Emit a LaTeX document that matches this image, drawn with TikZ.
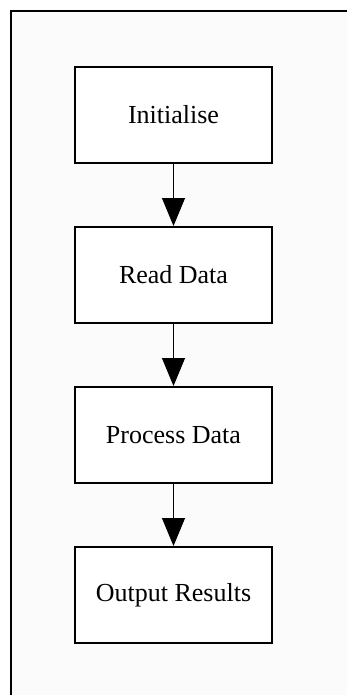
\documentclass[tikz,border=0pt]{standalone}
\usepackage{fontspec}
\setmainfont{Liberation Serif}
\usepackage{tikz}
\usetikzlibrary{arrows.meta}
\usetikzlibrary{positioning}
\definecolor{panel}{RGB}{251,251,251}
\tikzset{auto,>={Triangle[length=28pt,width=23pt]}, minimum size=0pt, node distance=62pt, font=\fontsize{26}{26}\selectfont}
\tikzstyle{block} = [draw, line width=2pt, fill=white, rectangle, minimum height=96pt, minimum width=197pt, text centered, align=center]
\tikzstyle{flow} = [line width=1pt]
\tikzstyle{frame} = [line width=2pt]
\begin{document}
\begin{tikzpicture}[x=1pt,y=1pt]
			\useasboundingbox (0,0) rectangle (347,-695);
			\fill [white] (0,0) rectangle (347,-695);
			\fill [panel] (11,-11) rectangle (347,-695);
			\draw [frame] (11,-695) -- (11,-11) -- (347,-11);

			\node [block] at (173.5,-115) (init) {Initialise};
			\node [block, below=62pt of init] (read_data) {Read Data};
			\node [block, below=62pt of read_data] (proc_data) {Process Data};
			\node [block, below=62pt of proc_data] (out_res) {Output Results};

			\draw [->, flow] (init) -- (read_data);
			\draw [->, flow] (read_data) -- (proc_data);
			\draw [->, flow] (proc_data) -- (out_res);
		\end{tikzpicture}
\end{document}
